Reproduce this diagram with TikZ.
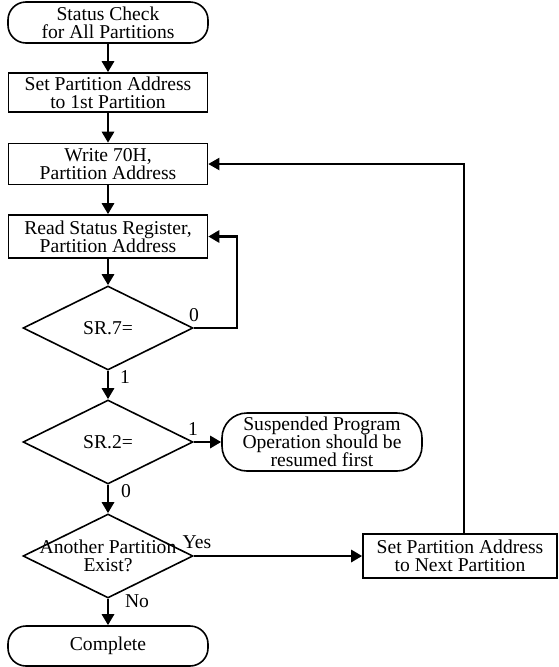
\documentclass[tikz,border=0pt]{standalone}
\usepackage{fontspec}
\setmainfont{Liberation Serif}
\usetikzlibrary{arrows.meta,shapes.geometric,calc}
\begin{document}
\begin{tikzpicture}[x=1pt,y=-1pt,
  every node/.style={font=\fontsize{19.6}{18}\selectfont, inner sep=0pt, align=center},
  term/.style={draw, line width=1.6pt, rounded corners=18pt, minimum width=200pt, minimum height=41pt},
  proc/.style={draw, line width=1.6pt, minimum width=199pt},
  dec/.style={draw, diamond, line width=1.6pt, minimum width=170pt, minimum height=84pt},
  flow/.style={line width=2.8pt, -{Triangle[length=11pt,width=12pt]}},
  thinflow/.style={line width=2pt, -{Triangle[length=11pt,width=12pt]}},
  lbl/.style={inner sep=0pt}
]
\path[use as bounding box] (0,0) rectangle (559,667);
\node[term] (start) at (108,22.5) {Status Check\\for All Partitions};
\node[proc, minimum height=39pt] (b1) at (108,92.5) {Set Partition Address\\to 1st Partition};
\node[proc, minimum height=41pt] (b2) at (108,164) {Write 70H,\\Partition Address};
\node[proc, minimum height=43pt] (b3) at (108,236.5) {Read Status Register,\\Partition Address};
\node[dec] (d1) at (108,328) {};
\node (d1t) at (d1) {SR.7=};
\node[dec] (d2) at (108,442) {};
\node (d2t) at (d2) {SR.2=};
\node[dec] (d3) at (108,556) {};
\node (d3t) at (d3) {Another Partition\\Exist?};
\node[term, minimum height=58pt, rounded corners=25pt] (susp) at (322,442) {Suspended Program\\Operation should be\\resumed first};
\node[proc, minimum width=194pt, minimum height=44pt] (next) at (460,556) {Set Partition Address\\to Next Partition};
\node[term, minimum height=40pt] (done) at (108,646) {Complete};
\coordinate (l1) at (237,328);
\coordinate (l2) at (464,164);
\draw[flow] (start) -- (b1);
\draw[flow] (b1) -- (b2);
\draw[flow] (b2) -- (b3);
\draw[flow] (b3) -- (d1);
\draw[flow] (d1.east) -- (l1) |- (b3.east);
\draw[flow] (d1.south) -- (d2.north);
\draw[flow] (d2.east) -- (susp.west);
\draw[flow] (d2.south) -- (d3.north);
\draw[flow] (d3.east) -- (next.west);
\draw[flow] (d3.south) -- (done.north);
\draw[thinflow] (next.north -| l2) |- (b2.east);
\node[lbl] (z1) at (194,315) {0};
\node[lbl] (o1) at (125,377) {1};
\node[lbl] (o2) at (193,429) {1};
\node[lbl] (z2) at (126,491) {0};
\node[lbl] (yes) at (197,542) {Yes};
\node[lbl] (no) at (137,601) {No};
\end{tikzpicture}
\end{document}
